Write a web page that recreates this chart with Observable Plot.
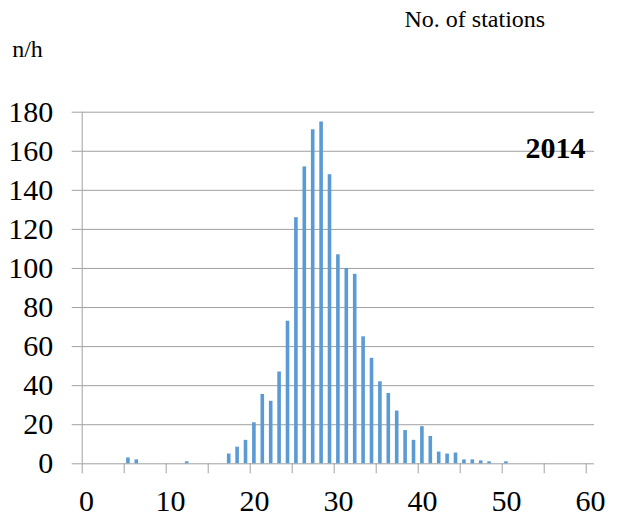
<!DOCTYPE html>
<html>
<head>
<meta charset="utf-8">
<script src="https://cdn.jsdelivr.net/npm/d3@7"></script>
<script src="https://cdn.jsdelivr.net/npm/@observablehq/plot@0.6"></script>
<style>
  html, body { margin: 0; padding: 0; background: #fff; }
  svg { display: block; }
</style>
</head>
<body>
<div id="chart"></div>
<script>
// ---- data ----
const bins = [0,1,2,3,4,5,6,7,8,9,10,11,12,13,14,15,16,17,18,19,20,21,22,23,24,25,26,27,28,29,30,31,32,33,34,35,36,37,38,39,40,41,42,43,44,45,46,47,48,49,50,51,52,53,54,55,56,57,58,59,60];
const counts = [0,0,0,0,0,3,2,0,0,0,0,0,1,0,0,0,0,5,8.5,12,21,35.5,32,47,73,126,152,171,175,148,107,100,97,65,54,42,36,27,17,12,19,14,6,5,5.5,2,2,1.5,1,0,1,0,0,0,0,0,0,0,0,0,0];
const yTicks = [0,20,40,60,80,100,120,140,160,180];
const xTickMarks = [0,5,10,15,20,25,30,35,40,45,50,55,60];
const xLabels = [0,10,20,30,40,50,60];
const yearLabel = "2014";
const topRightLabel = "No. of stations";
const topLeftLabel = "n/h";

const data = bins.map((b, i) => ({bin: b, count: counts[i]}));
const grid = "#a0a0a0";
const font = "Liberation Serif";

const chart = Plot.plot({
  width: 636,
  height: 521,
  marginLeft: 81.7,
  marginRight: 41.9,
  marginTop: 111.7,
  marginBottom: 57.7,
  x: {domain: [bins[0] - 0.5, bins[bins.length - 1] + 0.5]},
  y: {domain: [yTicks[0], yTicks[yTicks.length - 1]]},
  marks: [
    Plot.ruleY(yTicks, {stroke: grid, strokeWidth: 1}),
    Plot.ruleX([bins[0] - 0.5], {stroke: grid, strokeWidth: 1}),
    Plot.rectY(data, {
      x1: d => d.bin - 0.5,
      x2: d => d.bin + 0.5,
      y: "count",
      insetLeft: 2.4,
      insetRight: 2.4,
      fill: "#5B9BD5"
    }),
    Plot.axisY({ticks: yTicks, tickSize: 10, tickPadding: 19, stroke: grid, fill: "#000", label: null, fontSize: 30}),
    Plot.axisX({ticks: xTickMarks.map(d => d - 0.5), tickSize: 10, tickFormat: () => "", stroke: grid, label: null}),
    Plot.axisX({ticks: xLabels, tickSize: 0, tickPadding: 26, fill: "#000", label: null, fontSize: 30}),
    Plot.text([yearLabel], {text: d => d, frameAnchor: "top-right", dx: -9, dy: 35.8, textAnchor: "end", lineAnchor: "middle", fontWeight: "bold", fontSize: 30, fill: "#000"}),
    Plot.text([topRightLabel], {text: d => d, frameAnchor: "top-left", dx: 322.3, dy: -85, textAnchor: "start", lineAnchor: "bottom", fontSize: 24, fill: "#000"}),
    Plot.text([topLeftLabel], {text: d => d, frameAnchor: "top-left", dx: -70, dy: -55, textAnchor: "start", lineAnchor: "bottom", fontSize: 24, fill: "#000"})
  ]
});
// apply the serif font directly to the svg and every text element
chart.setAttribute("font-family", font);
chart.style.fontFamily = font;
chart.querySelectorAll("g, text").forEach(el => {
  if (el.hasAttribute("font-family")) el.setAttribute("font-family", font);
});
chart.querySelectorAll("text").forEach(el => {
  el.setAttribute("font-family", font);
  el.style.fontFamily = font;
});
document.getElementById("chart").appendChild(chart);
</script>
</body>
</html>
